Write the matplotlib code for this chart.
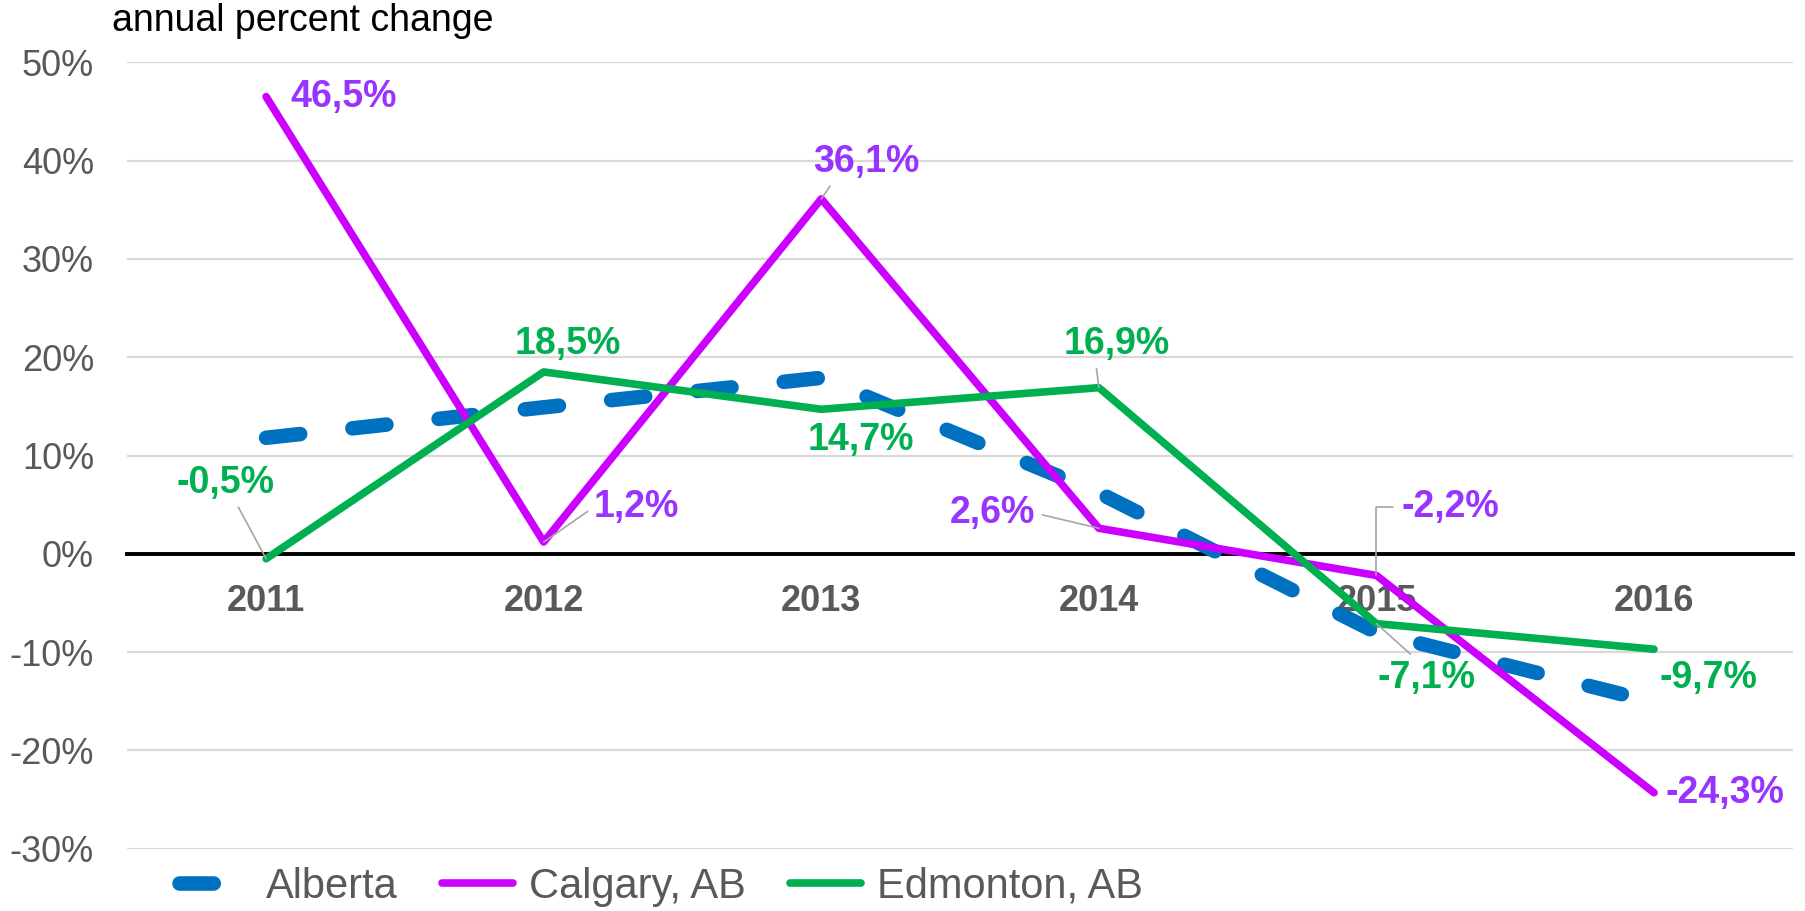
import matplotlib.pyplot as plt
from matplotlib.ticker import FuncFormatter

plt.rcParams['font.family'] = ['Liberation Sans', 'DejaVu Sans']

years = ['2011', '2012', '2013', '2014', '2015', '2016']
alberta = [11.8, 14.9, 17.9, 6.2, -8.0, -15.1]
calgary = [46.5, 1.2, 36.1, 2.6, -2.2, -24.3]
edmonton = [-0.5, 18.5, 14.7, 16.9, -7.1, -9.7]

# label offsets (pixels) and where the leader line leaves the text
cal_off = [(78, 0, None), (93, 35, (0, 0.5)), (45, 37, (0.2, 0.0)),
           (-106, 15, (1, 0.5)), (74, 68, 'bent'), (71, 0, None)]
edm_off = [(-41, 76, (0.6, 0)), (24, 28, None), (40, -31, None),
           (18, 44, (0.3, 0)), (50, -54, (0.4, 1)), (54, -29, None)]

c_alb = '#0070C0'
c_cal = '#CC00FF'
c_cal_txt = '#9933FF'
c_edm = '#00B050'
grey = '#595959'

fig = plt.figure(figsize=(18.06, 9.11), dpi=100)
ax = fig.add_axes([0.0705, 0.0683, 0.9222, 0.8634])

# zero line acts as the category axis
for s in ['top', 'right', 'left']:
    ax.spines[s].set_visible(False)
ax.spines['bottom'].set_position(('data', 0))
ax.spines['bottom'].set_color('black')
ax.spines['bottom'].set_linewidth(2.8)
ax.spines['bottom'].set_zorder(2)

x = range(len(years))

ax.plot(x, alberta, color=c_alb, lw=10.5, dashes=(2.35, 3.6),
        dash_capstyle='round', solid_capstyle='round', label='Alberta', zorder=3)
ax.plot(x, calgary, color=c_cal, lw=5.5, solid_capstyle='round',
        label='Calgary, AB', zorder=4)
ax.plot(x, edmonton, color=c_edm, lw=5.5, solid_capstyle='round',
        label='Edmonton, AB', zorder=5)


def fmt(v):
    return f'{v:.1f}'.replace('.', ',') + '%'


def add_labels(vals, offs, color):
    for i, (v, (dx, dy, rel)) in enumerate(zip(vals, offs)):
        kw = {}
        if rel == 'bent':
            kw['arrowprops'] = dict(arrowstyle='-', color='#A6A6A6', lw=1.2,
                                    shrinkA=4, shrinkB=0, relpos=(0, 0.5),
                                    connectionstyle='angle,angleA=0,angleB=90,rad=0')
        elif rel is not None:
            kw['arrowprops'] = dict(arrowstyle='-', color='#A6A6A6', lw=1.2,
                                    shrinkA=3, shrinkB=0, relpos=rel)
        ax.annotate(fmt(v), (i, v), xytext=(dx, dy), textcoords='offset pixels',
                    ha='center', va='center', fontsize=27, fontweight='bold',
                    color=color, zorder=6, **kw)


add_labels(calgary, cal_off, c_cal_txt)
add_labels(edmonton, edm_off, c_edm)

ax.set_xlim(-0.5, len(years) - 0.5)
ax.set_ylim(-30, 50)
ax.set_yticks(range(-30, 51, 10))
ax.yaxis.set_major_formatter(FuncFormatter(lambda v, p: f'{v:.0f}%'))
ax.set_xticks(list(x))
ax.set_xticklabels(years, fontweight='bold')
ax.tick_params(axis='x', length=0, pad=22, labelsize=26, labelcolor=grey)
ax.tick_params(axis='y', length=0, pad=24, labelsize=26, labelcolor=grey)
ax.grid(axis='y', color='#D9D9D9', lw=1.6, zorder=0)

fig.text(112 / 1806, 1 - 21 / 911, 'annual percent change', fontsize=27,
         color='black', va='center', ha='left')

leg = fig.legend(loc='center', bbox_to_anchor=(0.366, 0.0265), ncol=3,
                 frameon=False, fontsize=30, handlelength=1.7,
                 handletextpad=0.4, columnspacing=1.05, labelcolor=grey)

fig.savefig('out.png', dpi=100)
